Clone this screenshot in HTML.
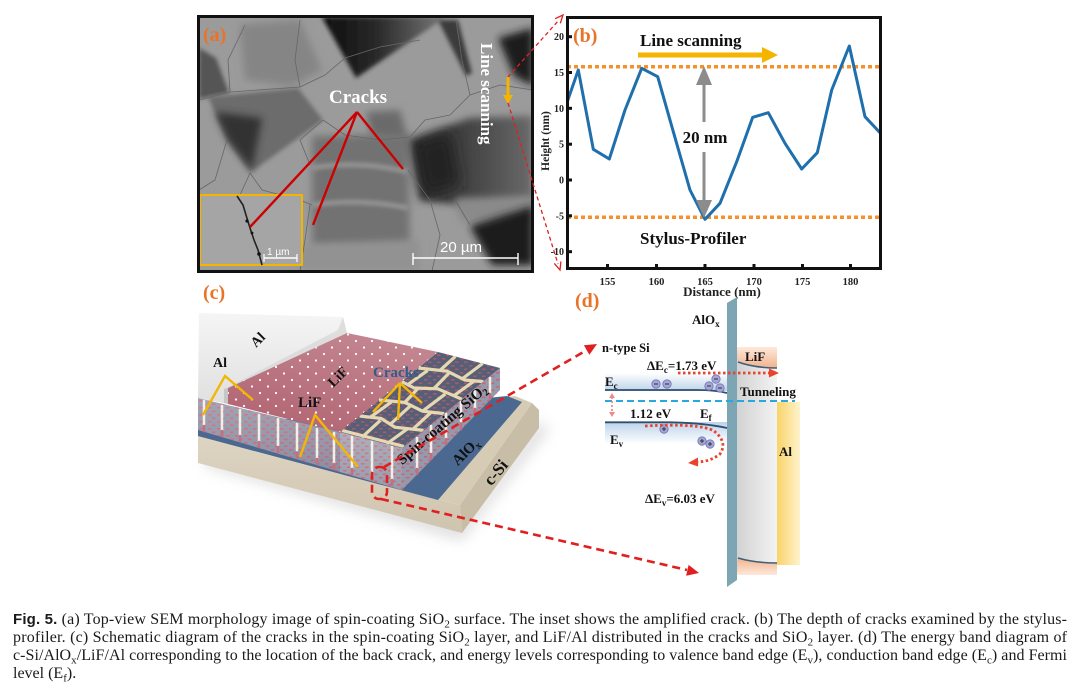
<!DOCTYPE html>
<html><head><meta charset="utf-8">
<style>
html,body{margin:0;padding:0;background:#fff;}
body{width:1080px;height:682px;overflow:hidden;}
svg{display:block}
text{font-family:"Liberation Serif",serif;}
</style></head><body>
<svg width="1080" height="682" viewBox="0 0 1080 682" xmlns="http://www.w3.org/2000/svg">
<defs>
<clipPath id="semclip"><rect x="199" y="17" width="333" height="254"/></clipPath>
<clipPath id="plotclip"><rect x="567" y="17" width="314" height="252"/></clipPath>
<clipPath id="topclip"><polygon points="340,432 402,448 500,368 438,352"/></clipPath>
<filter id="b2" x="-30%" y="-30%" width="160%" height="160%"><feGaussianBlur stdDeviation="2"/></filter>
<filter id="b4" x="-30%" y="-30%" width="160%" height="160%"><feGaussianBlur stdDeviation="4"/></filter>
<filter id="b7" x="-40%" y="-40%" width="180%" height="180%"><feGaussianBlur stdDeviation="7"/></filter>
<linearGradient id="gV" x1="0" y1="0" x2="1" y2="0"><stop offset="0" stop-color="#0d0d0d"/><stop offset="0.45" stop-color="#2a2a2a"/><stop offset="1" stop-color="#7a7a7a"/></linearGradient>
<linearGradient id="gR" x1="0" y1="0" x2="1" y2="0"><stop offset="0" stop-color="#262626"/><stop offset="0.5" stop-color="#454545"/><stop offset="1" stop-color="#6a6a6a"/></linearGradient>
<pattern id="dots" width="16" height="13" patternUnits="userSpaceOnUse"><circle cx="4" cy="3" r="1.1" fill="#fff"/><circle cx="12" cy="9.5" r="1.1" fill="#fff"/></pattern>
<pattern id="dash" width="9" height="7" patternUnits="userSpaceOnUse"><rect x="1" y="1" width="3.5" height="1.6" fill="#d45a6e"/><rect x="5" y="4.5" width="3.5" height="1.6" fill="#d45a6e"/></pattern>
<linearGradient id="pinkG" x1="0" y1="1" x2="0.6" y2="0"><stop offset="0" stop-color="#b0606f"/><stop offset="1" stop-color="#c2858f"/></linearGradient>
<linearGradient id="alG" x1="0" y1="0" x2="0" y2="1"><stop offset="0" stop-color="#f5f5f5"/><stop offset="1" stop-color="#e0e0e0"/></linearGradient>
<linearGradient id="faceG" x1="0" y1="0" x2="0" y2="1"><stop offset="0" stop-color="#fff" stop-opacity="0.2"/><stop offset="1" stop-color="#fff" stop-opacity="0"/></linearGradient>
<linearGradient id="csiF" x1="0" y1="0" x2="0" y2="1"><stop offset="0" stop-color="#ddd4c2"/><stop offset="1" stop-color="#cfc4ae"/></linearGradient>
<linearGradient id="ecG" x1="0" y1="0" x2="0" y2="1"><stop offset="0" stop-color="#fff"/><stop offset="1" stop-color="#bcd3ea"/></linearGradient>
<linearGradient id="evG" x1="0" y1="0" x2="0" y2="1"><stop offset="0" stop-color="#bcd3ea"/><stop offset="1" stop-color="#fff"/></linearGradient>
<linearGradient id="grayG" x1="0" y1="0" x2="1" y2="0"><stop offset="0" stop-color="#d2d2d2"/><stop offset="1" stop-color="#f3f3f3"/></linearGradient>
<linearGradient id="alY" x1="0" y1="0" x2="1" y2="0"><stop offset="0" stop-color="#f9d36a"/><stop offset="1" stop-color="#fff3cc"/></linearGradient>
<linearGradient id="peach" x1="0" y1="0" x2="0" y2="1"><stop offset="0" stop-color="#fde9dc"/><stop offset="1" stop-color="#f2b28c"/></linearGradient>
<linearGradient id="peach2" x1="0" y1="0" x2="0" y2="1"><stop offset="0" stop-color="#f2b28c"/><stop offset="1" stop-color="#fde9dc"/></linearGradient>
</defs>

<!-- ============ (a) SEM ============ -->
<g clip-path="url(#semclip)">
<rect x="199" y="17" width="333" height="254" fill="#9b9b9b"/>
<polygon points="240,25 300,20 322,70 292,86 245,80" fill="#858585" filter="url(#b4)"/>
<polygon points="199,48 216,58 229,93 199,99" fill="#555" filter="url(#b2)"/>
<polygon points="322,17 446,17 356,78" fill="url(#gV)" filter="url(#b2)"/>
<polygon points="438,20 458,20 472,73 466,76" fill="#3a3a3a" filter="url(#b2)"/>
<polygon points="498,38 533,28 533,86 514,76" fill="#1c1c1c" filter="url(#b4)"/>
<polygon points="208,97 298,88 323,120 250,173 227,140" fill="#6c6c6c" filter="url(#b2)"/>
<polygon points="215,112 262,118 252,170 228,140" fill="#303030" filter="url(#b4)"/>
<polygon points="366,112 400,110 408,140 372,138" fill="#6a6a6a" filter="url(#b4)"/>
<polygon points="312,136 408,134 410,245 312,246" fill="#727272" filter="url(#b4)"/>
<path d="M312,168 Q360,160 408,172 M312,205 Q360,198 408,208" stroke="#9c9c9c" stroke-width="4" fill="none" filter="url(#b2)"/>
<polygon points="410,140 470,118 533,116 533,200 470,206 420,200" fill="url(#gR)" filter="url(#b4)"/>
<polygon points="415,145 450,132 460,185 425,195" fill="#222" filter="url(#b7)"/>
<polygon points="455,198 533,196 533,220 460,222" fill="#8a8a8a" filter="url(#b4)"/>
<polygon points="470,226 533,206 533,265 492,265" fill="#1f1f1f" filter="url(#b4)"/>
<polygon points="300,245 420,240 420,271 300,271" fill="#929292" filter="url(#b4)"/>
<g stroke="#666" stroke-width="0.8" fill="none">
<path d="M199,100 L230,92 L300,87 L325,75 L345,58 L380,47 L420,40"/>
<path d="M250,173 L262,190 L300,200 L312,205"/>
<path d="M323,120 L345,135 L380,140 L410,137 L425,120 L450,115 L470,95 L500,85"/>
<path d="M470,95 L462,60 L456,20"/>
<path d="M408,170 L430,200 L440,235 L432,271"/>
<path d="M310,205 L305,240 L300,271"/>
<path d="M310,165 L300,140 L323,120"/>
<path d="M227,140 L215,180 L199,190"/>
<path d="M250,173 L240,195"/>
<path d="M500,85 L533,90"/>
<path d="M455,200 L470,225"/>
<path d="M300,87 L295,60 L300,20"/>
<path d="M230,92 L228,60 L245,25"/>
</g>
<rect x="200" y="195" width="102" height="70" fill="#a5a5a5" stroke="#f5b400" stroke-width="2"/>
<polyline points="237,196 243,205 246,215 250,228 254,240 258,250 262,265" fill="none" stroke="#222" stroke-width="1.6"/>
<circle cx="247" cy="221" r="1.6" fill="#111"/><circle cx="252" cy="233" r="1.4" fill="#111"/><circle cx="259" cy="254" r="1.8" fill="#111"/>
<line x1="264" y1="258" x2="297" y2="258" stroke="#fff" stroke-width="1.5"/>
<line x1="264" y1="254" x2="264" y2="262" stroke="#fff" stroke-width="1.2"/>
<line x1="297" y1="254" x2="297" y2="262" stroke="#fff" stroke-width="1.2"/>
<text x="267" y="255" font-size="10" fill="#fff" style="font-family:'Liberation Sans',sans-serif">1 µm</text>
<line x1="413" y1="258" x2="518" y2="258" stroke="#fff" stroke-width="1.6"/>
<line x1="413" y1="253" x2="413" y2="265" stroke="#fff" stroke-width="1.4"/>
<line x1="518" y1="253" x2="518" y2="265" stroke="#fff" stroke-width="1.4"/>
<text x="440" y="252" font-size="15" fill="#fff" style="font-family:'Liberation Sans',sans-serif">20 µm</text>
<text x="329" y="103" font-size="19" font-weight="bold" fill="#fff">Cracks</text>
<g stroke="#c00" stroke-width="2.4"><line x1="357" y1="112" x2="250" y2="227"/><line x1="357" y1="112" x2="313" y2="225"/><line x1="357" y1="112" x2="403" y2="169"/></g>
<text transform="translate(481,43) rotate(90)" font-size="17" font-weight="bold" fill="#fff">Line scanning</text>
<line x1="508" y1="77" x2="508" y2="96" stroke="#f5b400" stroke-width="3"/>
<polygon points="503,95 513,95 508,104" fill="#f5b400"/>
<text x="203" y="41" font-size="20" font-weight="bold" fill="#e8742a">(a)</text>
</g>
<rect x="198.5" y="16.5" width="334" height="255" fill="none" stroke="#111" stroke-width="3"/>

<g stroke="#e02020" stroke-width="1.3" fill="none">
<line x1="508" y1="77" x2="559" y2="20" stroke-dasharray="4 3"/>
<polyline points="555.1,18.7 563,15 560.3,23.3"/>
<line x1="508" y1="103" x2="558" y2="264" stroke-dasharray="4 3"/>
<polyline points="560.9,261.4 560,270 554.3,263.4"/>
</g>

<!-- ============ (b) plot ============ -->
<g clip-path="url(#plotclip)">
<line x1="567" y1="66.7" x2="881" y2="66.7" stroke="#f5902a" stroke-width="3.5" stroke-dasharray="4 3"/>
<line x1="567" y1="217.3" x2="881" y2="217.3" stroke="#f5902a" stroke-width="3.5" stroke-dasharray="4 3"/>
<polyline fill="none" stroke="#1f6fad" stroke-width="3" stroke-linejoin="round" points="566.7,103.3 578.3,70 593.3,149.3 609.3,159 625,110 641.7,68.3 657.7,76.7 673.3,131.7 690,190 705,219.3 720,203.3 736.7,161.7 752.7,117.3 768.3,112.7 785,143.3 801.7,169 817.3,152.7 831.7,90 849.3,46 865,116.7 880,132.7"/>
</g>
<rect x="702.5" y="82" width="3" height="40" fill="#8c8c8c"/>
<rect x="702.5" y="152" width="3" height="52" fill="#8c8c8c"/>
<polygon points="696,85 712,85 704,66" fill="#8c8c8c"/>
<polygon points="696,200 712,200 704,218" fill="#8c8c8c"/>
<text x="705" y="143" font-size="17" font-weight="bold" text-anchor="middle" fill="#111">20 nm</text>
<rect x="638" y="52.5" width="126" height="5" fill="#f5b400"/>
<polygon points="762,47 778,55 762,63" fill="#f5b400"/>
<text x="640" y="46" font-size="17" font-weight="bold" fill="#111">Line scanning</text>
<text x="640" y="244" font-size="17" font-weight="bold" fill="#111">Stylus-Profiler</text>
<text x="573" y="42" font-size="20" font-weight="bold" fill="#e8742a">(b)</text>
<g fill="#111">
<rect x="567" y="35.2" width="5" height="3"/><rect x="567" y="71" width="5" height="3"/><rect x="567" y="106.8" width="5" height="3"/><rect x="567" y="142.7" width="5" height="3"/><rect x="567" y="178.5" width="5" height="3"/><rect x="567" y="214.3" width="5" height="3"/><rect x="567" y="250.2" width="5" height="3"/>
<rect x="606" y="264" width="3" height="5"/><rect x="655" y="264" width="3" height="5"/><rect x="703.5" y="264" width="3" height="5"/><rect x="752.5" y="264" width="3" height="5"/><rect x="801" y="264" width="3" height="5"/><rect x="849" y="264" width="3" height="5"/>
</g>
<rect x="567.5" y="17.5" width="313" height="251" fill="none" stroke="#111" stroke-width="3"/>
<g font-size="10" font-weight="bold" fill="#222" text-anchor="end">
<text x="564" y="40">20</text><text x="564" y="76">15</text><text x="564" y="112">10</text><text x="564" y="147.5">5</text><text x="564" y="183.5">0</text><text x="564" y="219.5">-5</text><text x="564" y="255">-10</text>
</g>
<g font-size="10.5" font-weight="bold" fill="#222" text-anchor="middle">
<text x="607.5" y="285">155</text><text x="656.5" y="285">160</text><text x="705" y="285">165</text><text x="754" y="285">170</text><text x="802.5" y="285">175</text><text x="850.5" y="285">180</text>
</g>
<text transform="translate(549,141) rotate(-90)" font-size="11.5" font-weight="bold" text-anchor="middle" fill="#222">Height (nm)</text>
<text x="722" y="296" font-size="13" font-weight="bold" text-anchor="middle" fill="#222">Distance (nm)</text>

<!-- ============ (c) schematic ============ -->
<text x="203" y="299" font-size="20" font-weight="bold" fill="#e8742a">(c)</text>
<polygon points="205,466 462,540 548,430 540,420 462,525 205,455" fill="#999" opacity="0.35" filter="url(#b7)"/>
<polygon points="198,430 515,396 532,403 460,505 198,437" fill="#d6ccb6"/>
<polygon points="198,437 460,505 462,533 198,463" fill="url(#csiF)"/>
<polygon points="460,505 532,403 539,410 539,428 462,533" fill="#c8bea7"/>
<polygon points="198,428 507,396 522,402 438,500 198,436" fill="#4a6890"/>
<polygon points="199,313 343,317 347,333 228,388 228,404 198,398" fill="url(#alG)"/>
<polygon points="343,317 347,333 228,388 224,389 338,330" fill="#d6d6d6" opacity="0.7"/>
<polygon points="224,389 228,388 228,404 224,403" fill="#c6c6c6"/>
<polygon points="228,388 347,333 438,352 340,432 228,404" fill="url(#pinkG)"/>
<polygon points="228,388 347,333 438,352 340,432 228,404" fill="url(#dots)"/>
<polygon points="198,398 340,432 340,472 198,430" fill="#8a90a3"/>
<polygon points="198,398 340,432 340,472 198,430" fill="url(#dash)" opacity="0.9"/>
<polygon points="198,398 340,432 340,472 198,430" fill="url(#faceG)"/>
<polygon points="340,432 402,448 402,490 340,472" fill="#979cac"/>
<polygon points="340,432 402,448 402,490 340,472" fill="url(#dash)" opacity="0.85"/>
<polygon points="340,432 402,448 402,490 340,472" fill="url(#faceG)"/>
<polygon points="402,448 500,368 500,390 402,490" fill="#949aab"/>
<polygon points="402,448 500,368 500,390 402,490" fill="url(#dash)" opacity="0.8"/>
<polygon points="340,432 402,448 500,368 438,352" fill="#565f75"/>
<polygon points="340,432 402,448 500,368 438,352" fill="url(#dash)" opacity="0.6"/>
<g clip-path="url(#topclip)">
<g transform="matrix(62,16,98,-80,340,432)" fill="none" stroke="#e6d8b0" stroke-width="3.2">
<polyline vector-effect="non-scaling-stroke" points="0,0.2 0.3,0.23 0.6,0.18 1,0.22"/>
<polyline vector-effect="non-scaling-stroke" points="0,0.4 0.35,0.44 0.7,0.4 1,0.43"/>
<polyline vector-effect="non-scaling-stroke" points="0,0.63 0.25,0.6 0.55,0.65 1,0.61"/>
<polyline vector-effect="non-scaling-stroke" points="0,0.8 0.4,0.84 0.75,0.8 1,0.83"/>
<polyline vector-effect="non-scaling-stroke" points="0,0.02 1,0.02"/>
<path vector-effect="non-scaling-stroke" d="M0.35,0 L0.32,0.21 M0.75,0 L0.78,0.2 M0.15,0.21 L0.18,0.41 M0.5,0.2 L0.47,0.42 M0.85,0.21 L0.82,0.42 M0.35,0.44 L0.3,0.61 M0.7,0.4 L0.72,0.62 M0.12,0.62 L0.15,0.8 M0.5,0.64 L0.45,0.83 M0.85,0.62 L0.88,0.82 M0.3,0.83 L0.28,1 M0.7,0.81 L0.72,1"/>
</g>
</g>
<g stroke-width="2.6" stroke-linecap="round">
<g stroke="#f4efe4" stroke-dasharray="5 2">
<line x1="204" y1="401" x2="204" y2="425"/><line x1="222" y1="406" x2="222" y2="430"/><line x1="240" y1="410" x2="240" y2="435"/><line x1="259" y1="415" x2="259" y2="441"/><line x1="278" y1="419" x2="278" y2="446"/><line x1="297" y1="424" x2="297" y2="452"/><line x1="317" y1="429" x2="317" y2="458"/><line x1="334" y1="433" x2="334" y2="463"/>
<line x1="352" y1="437" x2="352" y2="468"/><line x1="372" y1="442" x2="372" y2="474"/><line x1="392" y1="447" x2="392" y2="479"/>
<line x1="417" y1="438" x2="417" y2="468"/><line x1="431" y1="426" x2="431" y2="453"/><line x1="446" y1="414" x2="446" y2="438"/><line x1="461" y1="402" x2="461" y2="423"/><line x1="475" y1="390" x2="475" y2="408"/><line x1="490" y1="378" x2="490" y2="393"/>
</g>
<g stroke="#c07080">
<line x1="204" y1="426" x2="204" y2="431"/><line x1="222" y1="431" x2="222" y2="436"/><line x1="240" y1="436" x2="240" y2="441"/><line x1="259" y1="442" x2="259" y2="447"/><line x1="278" y1="447" x2="278" y2="452"/><line x1="297" y1="453" x2="297" y2="458"/><line x1="317" y1="459" x2="317" y2="464"/><line x1="334" y1="464" x2="334" y2="469"/>
<line x1="352" y1="469" x2="352" y2="474"/><line x1="372" y1="475" x2="372" y2="480"/><line x1="392" y1="480" x2="392" y2="485"/>
<line x1="417" y1="469" x2="417" y2="474"/><line x1="431" y1="454" x2="431" y2="459"/><line x1="446" y1="439" x2="446" y2="444"/><line x1="461" y1="424" x2="461" y2="429"/><line x1="475" y1="409" x2="475" y2="414"/><line x1="490" y1="394" x2="490" y2="399"/>
</g>
</g>
<text transform="translate(261,343) rotate(-45)" font-size="14" font-weight="bold" text-anchor="middle" fill="#111">Al</text>
<text x="213" y="367" font-size="14" font-weight="bold" fill="#111">Al</text>
<text transform="translate(341,380) rotate(-45)" font-size="14" font-weight="bold" text-anchor="middle" fill="#111">LiF</text>
<text x="298" y="407" font-size="15" font-weight="bold" fill="#111">LiF</text>
<text x="373" y="377" font-size="15" font-weight="bold" fill="#2f5d8c">Cracks</text>
<g stroke="#f2b705" stroke-width="2.4" fill="none">
<polyline points="203,415 225,376 253,400"/>
<polyline points="300,457 315,415 358,467"/>
<line x1="400" y1="383" x2="373" y2="412"/><line x1="400" y1="383" x2="398" y2="420"/><line x1="400" y1="383" x2="422" y2="403"/>
</g>
<text transform="translate(445,428) rotate(-41)" font-size="15" font-weight="bold" text-anchor="middle" fill="#111">Spin-coating SiO<tspan font-size="10" dy="3">2</tspan></text>
<text transform="translate(469,455) rotate(-45)" font-size="15" font-weight="bold" text-anchor="middle" fill="#111">AlO<tspan font-size="10" dy="3">x</tspan></text>
<text transform="translate(500,476) rotate(-50)" font-size="17" font-weight="bold" text-anchor="middle" fill="#111">c-Si</text>

<g stroke="#e02020" stroke-width="2.6" fill="none" stroke-dasharray="8 5">
<rect x="372" y="467" width="15" height="32" rx="7"/>
<line x1="384" y1="467" x2="587" y2="350"/>
<line x1="381" y1="499" x2="687" y2="570"/>
</g>
<polygon points="597,344 589.4,354.8 583.9,345.2" fill="#e02020"/>
<polygon points="699,573 686.1,575.7 688.6,564.9" fill="#e02020"/>

<!-- ============ (d) band diagram ============ -->
<text x="575" y="307" font-size="20" font-weight="bold" fill="#e8742a">(d)</text>
<rect x="737" y="348" width="40" height="225" fill="url(#grayG)"/>
<path d="M737,347 L777,347 L777,368 Q755,368 738,362 Z" fill="url(#peach)"/>
<path d="M738,362 Q755,368 777,368" fill="none" stroke="#3d5f7a" stroke-width="1.6"/>
<path d="M737,575 L777,575 L777,563 Q755,563 738,558 Z" fill="url(#peach2)"/>
<path d="M738,558 Q755,563 777,563" fill="none" stroke="#3d5f7a" stroke-width="1.6"/>
<rect x="777" y="402" width="23" height="163" fill="url(#alY)"/>
<polygon points="727,303 737,297 737,580 727,587" fill="#7ea5b4"/>
<rect x="605" y="373" width="122" height="18" fill="url(#ecG)"/>
<path d="M605,390 L697,390 Q715,390 727,393" fill="none" stroke="#2d4f70" stroke-width="1.8"/>
<rect x="605" y="422" width="122" height="22" fill="url(#evG)"/>
<path d="M605,422.3 L670,422.3 Q705,423 727,428" fill="none" stroke="#2d4f70" stroke-width="1.8"/>
<line x1="605" y1="401" x2="795" y2="401" stroke="#29a8e0" stroke-width="2" stroke-dasharray="7 4"/>
<line x1="612" y1="397" x2="612" y2="413" stroke="#f08a8a" stroke-width="1.8" stroke-dasharray="2 2"/>
<polygon points="609,398 615,398 612,393" fill="#f08a8a"/><polygon points="609,412 615,412 612,417" fill="#f08a8a"/>
<g fill="#a3a6d6" stroke="#7075b5" stroke-width="0.8">
<circle cx="656" cy="384" r="4.2"/><circle cx="667" cy="384" r="4.2"/><circle cx="709" cy="386" r="4.2"/><circle cx="716" cy="379" r="4.2"/><circle cx="720" cy="388" r="4.2"/>
<circle cx="664" cy="429" r="4.2"/><circle cx="702" cy="441" r="4.2"/><circle cx="710" cy="444" r="4.2"/>
</g>
<g stroke="#333" stroke-width="1">
<line x1="654" y1="384" x2="658" y2="384"/><line x1="665" y1="384" x2="669" y2="384"/><line x1="707" y1="386" x2="711" y2="386"/><line x1="714" y1="379" x2="718" y2="379"/><line x1="718" y1="388" x2="722" y2="388"/>
<line x1="662" y1="429" x2="666" y2="429"/><line x1="664" y1="427" x2="664" y2="431"/>
<line x1="700" y1="441" x2="704" y2="441"/><line x1="702" y1="439" x2="702" y2="443"/>
<line x1="708" y1="444" x2="712" y2="444"/><line x1="710" y1="442" x2="710" y2="446"/>
</g>
<line x1="678" y1="373" x2="770" y2="373" stroke="#e8432c" stroke-width="2.8" stroke-dasharray="2.5 2.5"/>
<polygon points="769,368.5 779,373 769,377.5" fill="#e8432c"/>
<path d="M645,426 Q700,423 714,431 Q728,442 720,454 Q710,462 696,462" fill="none" stroke="#e8432c" stroke-width="2.8" stroke-dasharray="2.5 2.5"/>
<polygon points="698,457.5 698,466.5 688,463" fill="#e8432c"/>
<g font-weight="bold" fill="#111">
<text x="692" y="324" font-size="13">AlO<tspan font-size="9" dy="3">x</tspan></text>
<text x="602" y="352" font-size="12.5">n-type Si</text>
<text x="647" y="370" font-size="13">ΔE<tspan font-size="9" dy="3">c</tspan><tspan dy="-3">=1.73 eV</tspan></text>
<text x="745" y="361" font-size="13">LiF</text>
<text x="605" y="386" font-size="13">E<tspan font-size="9" dy="3">c</tspan></text>
<text x="740" y="396" font-size="13">Tunneling</text>
<text x="630" y="418" font-size="13">1.12 eV</text>
<text x="700" y="418" font-size="13">E<tspan font-size="9" dy="3">f</tspan></text>
<text x="610" y="444" font-size="13">E<tspan font-size="9" dy="3">v</tspan></text>
<text x="779" y="456" font-size="13">Al</text>
<text x="645" y="503" font-size="13">ΔE<tspan font-size="9" dy="3">v</tspan><tspan dy="-3">=6.03 eV</tspan></text>
</g>

<!-- ============ caption ============ -->
<g font-size="16" fill="#1a1a1a">
<text x="13" y="624" textLength="1054" lengthAdjust="spacing"><tspan font-weight="bold" style="font-family:'Liberation Sans',sans-serif" font-size="15">Fig. 5.</tspan> (a) Top-view SEM morphology image of spin-coating SiO<tspan font-size="11" dy="3.5">2</tspan><tspan dy="-3.5"> surface. The inset shows the amplified crack. (b) The depth of cracks examined by the stylus-</tspan></text>
<text x="13" y="642" textLength="1054" lengthAdjust="spacing">profiler. (c) Schematic diagram of the cracks in the spin-coating SiO<tspan font-size="11" dy="3.5">2</tspan><tspan dy="-3.5"> layer, and LiF/Al distributed in the cracks and SiO</tspan><tspan font-size="11" dy="3.5">2</tspan><tspan dy="-3.5"> layer. (d) The energy band diagram of</tspan></text>
<text x="13" y="660" textLength="1054" lengthAdjust="spacing">c-Si/AlO<tspan font-size="11" dy="3.5">x</tspan><tspan dy="-3.5">/LiF/Al corresponding to the location of the back crack, and energy levels corresponding to valence band edge (E</tspan><tspan font-size="11" dy="3.5">v</tspan><tspan dy="-3.5">), conduction band edge (E</tspan><tspan font-size="11" dy="3.5">c</tspan><tspan dy="-3.5">) and Fermi</tspan></text>
<text x="13" y="678">level (E<tspan font-size="11" dy="3.5">f</tspan><tspan dy="-3.5">).</tspan></text>
</g>
</svg>
</body></html>
